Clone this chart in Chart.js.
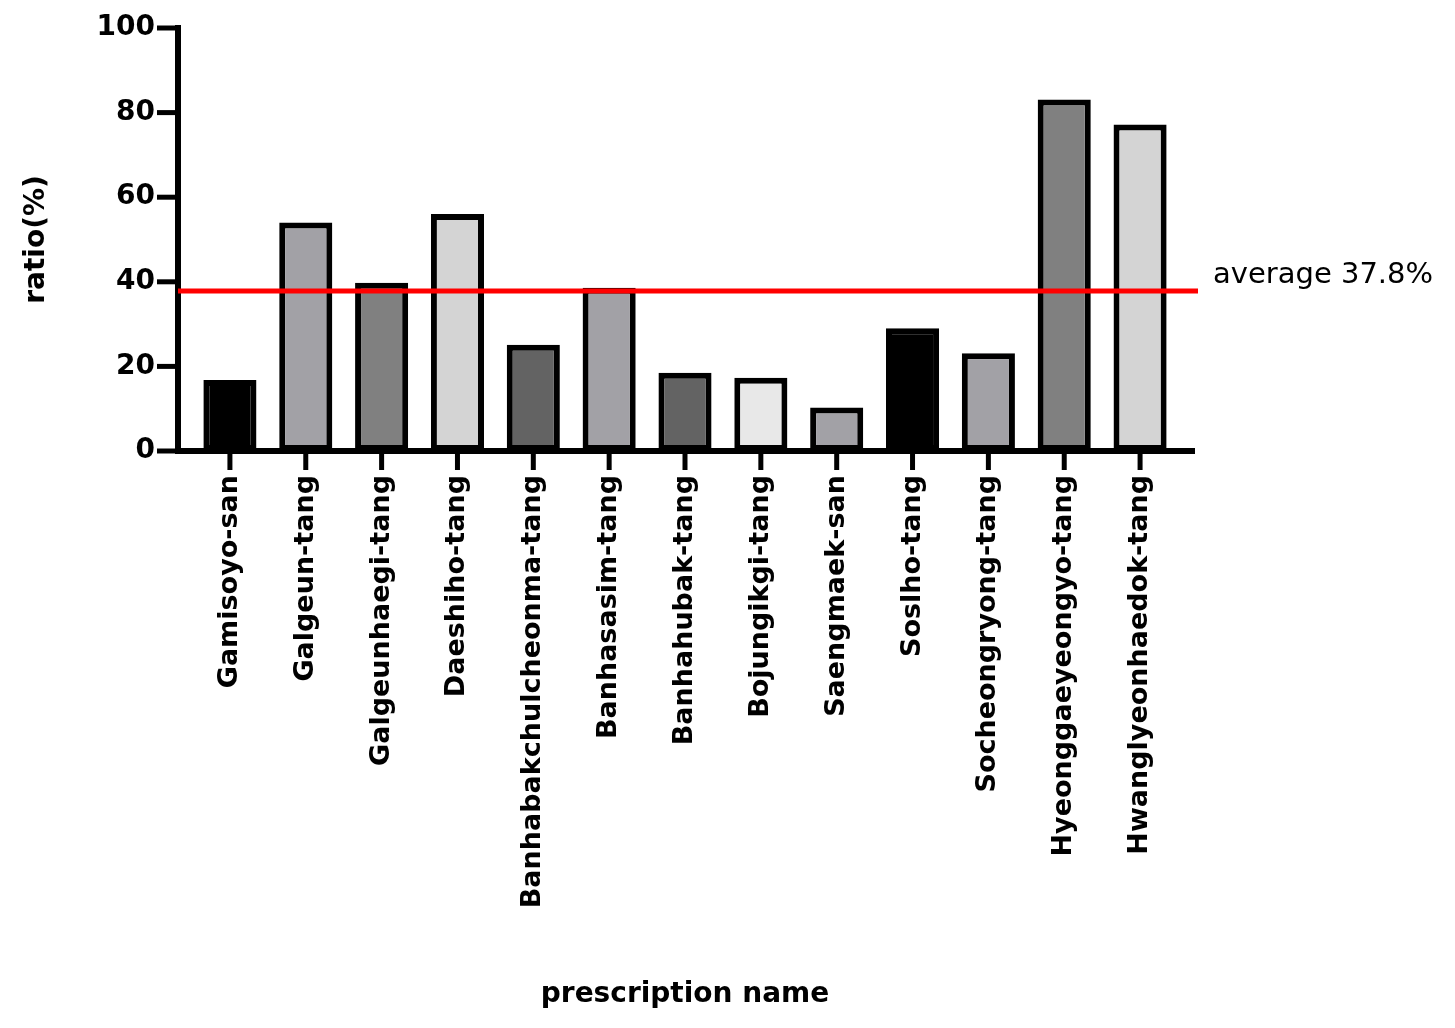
<!DOCTYPE html>
<html>
<head>
<meta charset="utf-8">
<title>prescription ratio</title>
<script src="https://cdn.jsdelivr.net/npm/chart.js@4/dist/chart.umd.min.js"></script>
<style>
  html, body { margin: 0; padding: 0; background: #ffffff; }
  canvas { display: block; }
</style>
</head>
<body>
<canvas id="ratio-chart" width="1455" height="1028"></canvas>
<script>
// --- DATOS ---
const prescriptions = [
    'Gamisoyo-san', 'Galgeun-tang', 'Galgeunhaegi-tang', 'Daeshiho-tang',
    'Banhabakchulcheonma-tang', 'Banhasasim-tang', 'Banhahubak-tang', 'Bojungikgi-tang',
    'Saengmaek-san', 'Soslho-tang', 'Socheongryong-tang', 'Hyeonggaeyeongyo-tang',
    'Hwanglyeonhaedok-tang'
];
const ratios = [16.8, 54.0, 39.8, 56.0, 25.1, 38.6, 18.5, 17.3, 10.3, 29.0, 23.1, 83.1, 77.2];
const barColors = [
    '#000000', '#a2a1a6', '#808080', '#d4d4d4', '#636363', '#a2a1a6', '#636363',
    '#e8e8e8', '#a2a1a6', '#000000', '#a2a1a6', '#808080', '#d4d4d4'
];
const yTicks = [0, 20, 40, 60, 80, 100];
const averageValue = 37.8;
const averageLabel = 'average 37.8%';

const FONT = "'DejaVu Sans', sans-serif";

// --- PLUGIN: ejes estilo GraphPad + línea de promedio ---
const axesAndAverage = {
    id: 'axesAndAverage',
    afterDatasetsDraw(chart) {
        const { ctx, chartArea, scales } = chart;
        const xScale = scales.x;
        const yScale = scales.y;
        const axisX = chartArea.left - 14;
        const axisY = yScale.getPixelForValue(0);
        const axisEnd = chartArea.right + 17;

        ctx.save();
        ctx.strokeStyle = '#000000';
        ctx.lineCap = 'butt';

        // eje Y
        ctx.lineWidth = 6;
        ctx.beginPath();
        ctx.moveTo(axisX, yScale.getPixelForValue(100) - 3);
        ctx.lineTo(axisX, axisY + 3);
        ctx.stroke();

        // eje X
        ctx.beginPath();
        ctx.moveTo(axisX - 3, axisY);
        ctx.lineTo(axisEnd, axisY);
        ctx.stroke();

        // marcas del eje Y
        ctx.lineWidth = 5;
        yTicks.forEach(v => {
            const py = yScale.getPixelForValue(v);
            ctx.beginPath();
            ctx.moveTo(axisX - 21, py);
            ctx.lineTo(axisX, py);
            ctx.stroke();
        });

        // marcas del eje X
        prescriptions.forEach((_, i) => {
            const px = xScale.getPixelForValue(i);
            ctx.beginPath();
            ctx.moveTo(px, axisY);
            ctx.lineTo(px, axisY + 19);
            ctx.stroke();
        });

        // línea de promedio
        const avgY = yScale.getPixelForValue(averageValue);
        ctx.strokeStyle = '#ff0000';
        ctx.lineWidth = 5;
        ctx.beginPath();
        ctx.moveTo(axisX, avgY);
        ctx.lineTo(axisEnd + 3, avgY);
        ctx.stroke();

        ctx.fillStyle = '#000000';
        ctx.font = `29px ${FONT}`;
        ctx.textAlign = 'left';
        ctx.textBaseline = 'middle';
        ctx.fillText(averageLabel, axisEnd + 18, avgY - 16);
        ctx.restore();
    }
};

// --- GRÁFICO ---
const ratioChart = new Chart(document.querySelector('#ratio-chart'), {
    type: 'bar',
    data: {
        labels: prescriptions,
        datasets: [{
            data: ratios,
            backgroundColor: barColors,
            borderColor: '#000000',
            borderWidth: 6,
            borderSkipped: false,
            barPercentage: 0.7,
            categoryPercentage: 1.0
        }]
    },
    options: {
        responsive: false,
        animation: false,
        devicePixelRatio: 1,
        layout: {
            padding: { left: 0, right: 277, top: 28, bottom: 0 }
        },
        plugins: {
            legend: { display: false },
            tooltip: { enabled: false }
        },
        scales: {
            x: {
                offset: true,
                grid: { display: false, drawTicks: false },
                border: { display: false },
                ticks: {
                    autoSkip: false,
                    minRotation: 90,
                    maxRotation: 90,
                    padding: 24,
                    color: '#000000',
                    font: { family: FONT, size: 27, weight: 'bold' }
                },
                title: {
                    display: true,
                    text: 'prescription name',
                    color: '#000000',
                    font: { family: FONT, size: 28, weight: 'bold' },
                    padding: { top: 16, bottom: 16 }
                },
                afterFit: (scale) => {
                    scale.height = 577;
                    scale.paddingLeft = 0;
                    scale.paddingRight = 0;
                    scale.paddingTop = 0;
                    scale.paddingBottom = 0;
                }
            },
            y: {
                min: 0,
                max: 100,
                grid: { display: false, drawTicks: false },
                border: { display: false },
                afterBuildTicks: (scale) => { scale.ticks = yTicks.map(v => ({ value: v })); },
                ticks: {
                    padding: 37,
                    color: '#000000',
                    font: { family: FONT, size: 28, weight: 'bold' }
                },
                title: {
                    display: true,
                    text: 'ratio(%)',
                    color: '#000000',
                    font: { family: FONT, size: 28, weight: 'bold' },
                    padding: { top: 20, bottom: 20 }
                },
                afterFit: (scale) => {
                    scale.width = 192;
                    scale.paddingTop = 0;
                    scale.paddingBottom = 0;
                }
            }
        }
    },
    plugins: [axesAndAverage]
});
</script>
</body>
</html>
